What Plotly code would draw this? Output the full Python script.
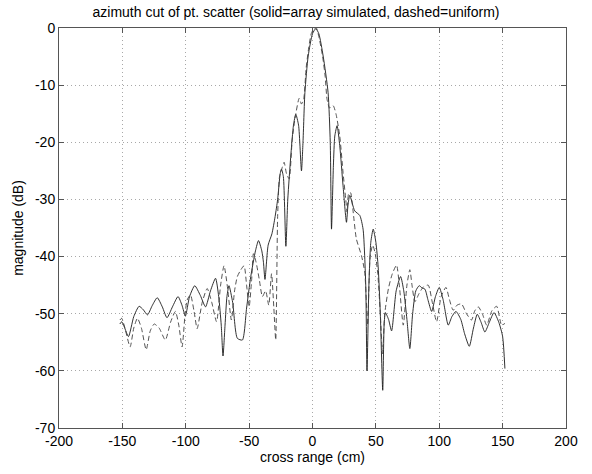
import plotly.graph_objects as go

# cross range (cm) and magnitude (dB)
x_solid = [-152, -150.5, -148.5, -145.2, -141, -136.8, -133.5, -130.2, -126.5, -122.5, -118.5, -114.8,
           -110.5, -106.1, -103, -100.3, -97, -92.9, -88.5, -84.4, -80.5, -76.5, -74, -72, -70.6, -69,
           -67.5, -65.9, -63, -59.3, -55.3, -52, -48.7, -45, -42.6, -40, -38.7, -37.5, -35, -32, -29.5,
           -27.5, -25.5, -24.5, -23, -21, -19.5, -17, -15, -13.2, -11, -8.7, -7.5, -6, -3.4, 0, 2.6, 5,
           8.4, 12.3, 14, 15, 16.5, 17.6, 19.4, 21.5, 24.1, 26.8, 28, 29.4, 33.3, 37.3, 39.9, 42, 43, 44.5,
           46, 47.9, 50, 51.8, 53.5, 55.4, 56.5, 57.5, 60, 62.4, 66, 69.5, 72, 74.5, 76.8, 79, 81.5, 84.2,
           86.5, 88.7, 91, 94, 97, 100, 103, 107.1, 110, 113.2, 117, 120, 123.7, 127, 130, 133, 136,
           139.5, 143.2, 147, 150, 151.8]
y_solid = [-51.8, -51.4, -52.3, -54, -50.5, -48.7, -49.3, -50.2, -48.6, -47.2, -48.8, -50.7,
           -48.8, -47, -48.5, -50.4, -47, -45.1, -46.8, -48.8, -46, -43.8, -47, -52, -57.4, -52,
           -47, -45.1, -48, -54.3, -54.6, -49, -43.5, -39, -37.2, -39, -41, -44, -38, -36, -33,
           -30, -25.5, -24.7, -26, -38.2, -30, -22, -17, -15.1, -17, -25, -20, -11.3, -4.9, -1, -0.1, -1,
           -4.9, -11.3, -20, -35.2, -24, -18.9, -17.1, -20.6, -27.6, -34, -31, -29.3, -32, -32.8, -35.2, -45, -60, -45,
           -37.5, -35.2, -37.5, -41.8, -50, -63.4, -52, -49.8, -51, -53, -46, -43.5, -46, -51, -56.1, -50, -46, -45.1,
           -45.5, -45.7, -47.5, -49.6, -47, -45.4, -47.5, -52, -50.5, -49.6, -51, -53.5, -55.7, -52.5, -50.1, -51.5, -53.2,
           -51.5, -49.8, -51.5, -54, -59.6]

x_dashed = [-152, -150.5, -148, -143.9, -141, -138.1, -135, -131.2, -128, -124.9, -121, -116.1, -112,
            -108.2, -105.5, -102.9, -100.5, -98.9, -96.3, -93.5, -91, -87, -83.1, -79.5, -75.7, -72.5,
            -69.8, -67, -64, -61.5, -59.3, -56.5, -54, -52, -50, -48, -46.6, -44.5, -42, -39.5, -37,
            -34.5, -32.3, -30.5, -29, -27.5, -26, -24, -22.4, -20.5, -18.4, -16, -13.7, -10.5, -8.7, -7,
            -5, -3, -1, 1.5, 3, 5, 8, 10, 11.5, 13.5, 16.3, 18.5, 21.5, 24.1, 26.2, 27.3, 28.5, 30, 32,
            34.6, 38.6, 41.2, 43.5, 45.5, 47.5, 49.5, 51.5, 53.5, 55.3, 57, 60, 63, 66.3, 68.5, 71.6,
            74.5, 76.8, 78.5, 80.8, 84, 87.5, 91.3, 94.5, 97.9, 101.5, 105.3, 108, 111, 114, 117.6,
            121.5, 125.5, 128, 130.8, 134, 137.4, 141.5, 145.3, 149.2, 151.8]
y_dashed = [-51.1, -50.8, -52.5, -55.8, -52.5, -50.8, -52.5, -56.3, -53, -51.8, -52.5, -54.6, -51.5,
            -49.6, -52, -55.8, -50, -47.6, -46.7, -49.5, -52.6, -48, -45.6, -48, -51.4, -45,
            -41.6, -45.5, -51.1, -46, -43.5, -42.3, -41.6, -45, -48.8, -44, -39.5, -41, -44, -47, -46,
            -48.5, -43, -49, -54.6, -33, -26, -24.5, -23.5, -25.5, -26.4, -19.5, -15.7, -12.3, -13.3, -12.5,
            -7, -3.5, -1, 0, 0, -1.5, -5, -8.5, -12.5, -14, -13.6, -15, -18.9, -25.3, -29.9, -32.2, -29, -28.8, -32,
            -36.9, -39.8, -42.7, -52, -40, -38, -39.5, -43, -50, -57, -50, -45.5, -43, -41.5, -45, -52,
            -45, -42.3, -45, -47.9, -46.5, -45.3, -45, -48, -51.4, -47, -45.4, -47.5, -49.4, -48.5, -48.3,
            -50, -51.1, -49.5, -48.8, -50, -52, -49.5, -48.7, -52, -51.7]

x_ticks = [-200, -150, -100, -50, 0, 50, 100, 150, 200]
y_ticks = [0, -10, -20, -30, -40, -50, -60, -70]

assert len(x_solid) == len(y_solid), (len(x_solid), len(y_solid))
assert len(x_dashed) == len(y_dashed), (len(x_dashed), len(y_dashed))

FONT = "Liberation Sans, Arial, Helvetica, sans-serif"
FS = 14

fig = go.Figure()
fig.add_trace(go.Scatter(x=x_solid, y=y_solid, mode="lines", name="array simulated",
                         line=dict(color="#1a1a1a", width=0.9, shape="spline", smoothing=0.6)))
fig.add_trace(go.Scatter(x=x_dashed, y=y_dashed, mode="lines", name="uniform",
                         line=dict(color="#404040", width=0.9, dash="5px,3px", shape="spline", smoothing=0.6)))

axis_common = dict(
    showline=True, linecolor="#555", linewidth=1, mirror="ticks",
    ticks="inside", ticklen=5, tickcolor="#555",
    showgrid=True, gridcolor="#a8a8a8", griddash="1px,3px", gridwidth=1,
    zeroline=False, tickfont=dict(family=FONT, size=FS, color="black"),
)

fig.update_xaxes(range=[-200, 200], tickvals=x_ticks, ticktext=[str(v) for v in x_ticks],
                 title=dict(text="cross range (cm)", font=dict(family=FONT, size=FS, color="black"), standoff=3),
                 **axis_common)
fig.update_yaxes(range=[-70, 0], tickvals=y_ticks, ticktext=[str(v) for v in y_ticks],
                 title=dict(text="magnitude (dB)", font=dict(family=FONT, size=FS, color="black"), standoff=8),
                 **axis_common)

fig.update_layout(
    width=592, height=474,
    margin=dict(l=59, r=26, t=28, b=46),
    paper_bgcolor="white", plot_bgcolor="white",
    showlegend=False,
    title=dict(text="azimuth cut of pt. scatter (solid=array simulated, dashed=uniform)",
               font=dict(family=FONT, size=FS, color="black"),
               x=0.5, xanchor="center", y=0.975, yanchor="middle"),
)

fig.write_html("out.html")
